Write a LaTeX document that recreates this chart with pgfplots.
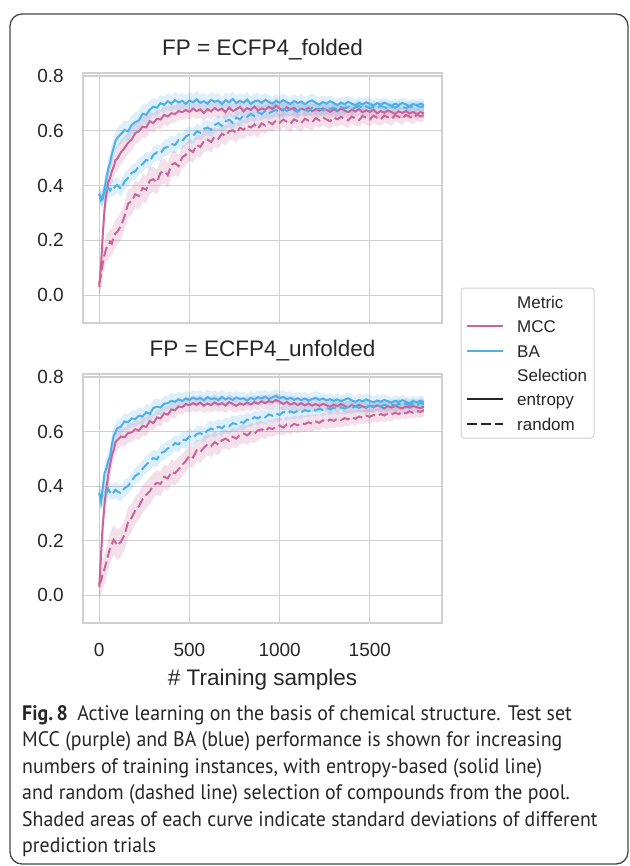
\documentclass[border=0pt]{standalone}
\usepackage{fontspec}
\setmainfont{Liberation Sans}
\newfontfamily\capfont[FakeStretch=0.945]{PT Sans}
\usepackage{pgfplots}
\usepackage{pgfplotstable}
\pgfplotsset{compat=1.18}
\usepgfplotslibrary{fillbetween}
\definecolor{mcc}{RGB}{201,100,154}
\definecolor{ba}{RGB}{78,176,230}
\definecolor{gridc}{RGB}{208,208,208}
\definecolor{txt}{RGB}{38,38,38}
\definecolor{frame}{RGB}{70,70,70}

\pgfplotstableread{
x be sbe me sme br sbr mr smr
0 0.370 0.030 0.030 0.040 0.370 0.030 0.040 0.040
10 0.345 0.030 0.110 0.050 0.352 0.030 0.075 0.050
20 0.352 0.030 0.225 0.050 0.365 0.030 0.118 0.050
30 0.392 0.035 0.318 0.050 0.372 0.030 0.150 0.050
40 0.428 0.035 0.372 0.045 0.384 0.030 0.172 0.050
50 0.462 0.035 0.412 0.045 0.391 0.030 0.178 0.050
60 0.483 0.035 0.428 0.045 0.382 0.030 0.195 0.050
70 0.515 0.035 0.452 0.045 0.394 0.030 0.188 0.050
80 0.538 0.035 0.468 0.045 0.388 0.030 0.212 0.050
90 0.562 0.035 0.493 0.045 0.398 0.030 0.225 0.050
100 0.574 0.035 0.498 0.045 0.402 0.030 0.231 0.050
120 0.588 0.035 0.521 0.045 0.388 0.030 0.252 0.050
140 0.603 0.035 0.537 0.040 0.414 0.030 0.287 0.050
160 0.598 0.035 0.556 0.040 0.428 0.030 0.334 0.050
180 0.621 0.035 0.568 0.040 0.446 0.030 0.343 0.050
200 0.632 0.035 0.592 0.040 0.452 0.030 0.368 0.050
220 0.638 0.035 0.598 0.040 0.471 0.030 0.362 0.050
240 0.662 0.035 0.615 0.040 0.478 0.030 0.391 0.050
260 0.658 0.035 0.612 0.040 0.494 0.030 0.385 0.050
280 0.677 0.035 0.635 0.035 0.488 0.030 0.418 0.050
300 0.688 0.030 0.628 0.035 0.512 0.030 0.423 0.045
320 0.684 0.030 0.644 0.035 0.521 0.030 0.412 0.045
340 0.701 0.030 0.641 0.035 0.518 0.030 0.447 0.045
360 0.695 0.030 0.658 0.035 0.537 0.030 0.452 0.045
380 0.708 0.030 0.652 0.035 0.541 0.030 0.438 0.045
400 0.699 0.030 0.664 0.035 0.552 0.030 0.476 0.045
420 0.712 0.030 0.661 0.030 0.548 0.030 0.482 0.045
440 0.703 0.030 0.672 0.030 0.566 0.030 0.471 0.040
460 0.709 0.030 0.668 0.030 0.562 0.030 0.503 0.040
480 0.698 0.030 0.676 0.030 0.579 0.030 0.512 0.040
500 0.711 0.030 0.669 0.030 0.586 0.030 0.531 0.040
520 0.704 0.030 0.681 0.030 0.581 0.028 0.522 0.040
540 0.715 0.030 0.672 0.030 0.598 0.028 0.548 0.040
560 0.702 0.030 0.678 0.030 0.593 0.028 0.541 0.040
580 0.708 0.030 0.665 0.030 0.607 0.028 0.562 0.040
600 0.699 0.030 0.679 0.030 0.612 0.028 0.568 0.040
620 0.713 0.028 0.671 0.030 0.604 0.028 0.559 0.040
640 0.706 0.028 0.683 0.030 0.621 0.028 0.578 0.035
660 0.710 0.028 0.674 0.030 0.628 0.028 0.571 0.035
680 0.697 0.028 0.681 0.030 0.618 0.028 0.589 0.035
700 0.712 0.028 0.668 0.030 0.634 0.028 0.582 0.035
720 0.704 0.028 0.685 0.028 0.641 0.028 0.598 0.035
740 0.716 0.028 0.672 0.028 0.629 0.028 0.602 0.035
760 0.701 0.028 0.679 0.028 0.648 0.028 0.591 0.035
780 0.709 0.028 0.687 0.028 0.642 0.028 0.611 0.035
800 0.703 0.028 0.671 0.028 0.655 0.028 0.604 0.035
820 0.714 0.028 0.683 0.028 0.651 0.025 0.618 0.035
840 0.698 0.028 0.676 0.028 0.662 0.025 0.612 0.035
860 0.707 0.028 0.689 0.028 0.654 0.025 0.623 0.035
880 0.711 0.028 0.674 0.028 0.668 0.025 0.608 0.035
900 0.702 0.028 0.682 0.028 0.661 0.025 0.627 0.030
920 0.713 0.025 0.676 0.028 0.672 0.025 0.619 0.030
940 0.705 0.025 0.688 0.028 0.664 0.025 0.632 0.030
960 0.699 0.025 0.679 0.028 0.671 0.025 0.624 0.030
980 0.709 0.025 0.692 0.028 0.676 0.025 0.638 0.030
1000 0.702 0.025 0.681 0.028 0.668 0.025 0.629 0.030
1020 0.712 0.025 0.674 0.028 0.679 0.025 0.641 0.030
1040 0.704 0.025 0.686 0.025 0.672 0.025 0.633 0.030
1060 0.698 0.025 0.678 0.025 0.681 0.025 0.626 0.030
1080 0.709 0.025 0.684 0.025 0.675 0.025 0.642 0.030
1100 0.701 0.025 0.672 0.025 0.669 0.025 0.635 0.030
1120 0.707 0.025 0.681 0.025 0.683 0.022 0.628 0.030
1140 0.697 0.025 0.676 0.025 0.677 0.022 0.644 0.030
1160 0.706 0.025 0.684 0.025 0.672 0.022 0.637 0.030
1180 0.711 0.025 0.671 0.025 0.684 0.022 0.631 0.030
1200 0.702 0.025 0.679 0.025 0.678 0.022 0.646 0.028
1220 0.696 0.025 0.673 0.025 0.681 0.022 0.638 0.028
1240 0.705 0.025 0.682 0.025 0.674 0.022 0.649 0.028
1260 0.699 0.022 0.676 0.025 0.686 0.022 0.641 0.028
1280 0.708 0.022 0.669 0.025 0.679 0.022 0.635 0.028
1300 0.701 0.022 0.678 0.025 0.684 0.022 0.648 0.028
1320 0.694 0.022 0.672 0.025 0.676 0.022 0.642 0.028
1340 0.703 0.022 0.681 0.025 0.687 0.022 0.651 0.028
1360 0.697 0.022 0.674 0.022 0.681 0.022 0.644 0.028
1380 0.706 0.022 0.668 0.022 0.688 0.020 0.638 0.028
1400 0.699 0.022 0.677 0.022 0.679 0.020 0.652 0.025
1420 0.693 0.022 0.671 0.022 0.685 0.020 0.645 0.025
1440 0.702 0.022 0.679 0.022 0.691 0.020 0.639 0.025
1460 0.696 0.022 0.668 0.022 0.683 0.020 0.654 0.025
1480 0.704 0.022 0.675 0.022 0.689 0.020 0.647 0.025
1500 0.698 0.022 0.669 0.022 0.682 0.020 0.641 0.025
1520 0.692 0.020 0.677 0.022 0.688 0.020 0.655 0.025
1540 0.701 0.020 0.664 0.022 0.684 0.020 0.648 0.025
1560 0.695 0.020 0.672 0.022 0.691 0.020 0.642 0.025
1580 0.703 0.020 0.666 0.022 0.686 0.020 0.656 0.025
1600 0.697 0.020 0.674 0.020 0.681 0.020 0.649 0.025
1620 0.691 0.020 0.668 0.020 0.689 0.020 0.643 0.025
1640 0.699 0.020 0.661 0.020 0.684 0.018 0.657 0.022
1660 0.694 0.020 0.671 0.020 0.692 0.018 0.651 0.022
1680 0.702 0.020 0.665 0.020 0.686 0.018 0.644 0.022
1700 0.696 0.020 0.672 0.020 0.683 0.018 0.658 0.022
1720 0.690 0.020 0.663 0.020 0.689 0.018 0.652 0.022
1740 0.698 0.020 0.669 0.020 0.685 0.018 0.646 0.022
1760 0.693 0.020 0.661 0.020 0.691 0.018 0.659 0.022
1780 0.699 0.020 0.668 0.020 0.687 0.018 0.653 0.022
1800 0.694 0.020 0.664 0.020 0.690 0.018 0.657 0.022
}\folded

\pgfplotstableread{
x be sbe me sme br sbr mr smr
0 0.376 0.040 0.030 0.050 0.370 0.040 0.040 0.050
10 0.342 0.040 0.148 0.060 0.352 0.035 0.052 0.050
20 0.395 0.040 0.262 0.060 0.368 0.035 0.081 0.055
30 0.448 0.040 0.338 0.060 0.381 0.035 0.098 0.055
40 0.466 0.035 0.392 0.055 0.376 0.030 0.122 0.055
50 0.492 0.035 0.441 0.055 0.389 0.030 0.148 0.055
60 0.508 0.035 0.478 0.050 0.378 0.030 0.172 0.055
70 0.553 0.035 0.512 0.045 0.384 0.030 0.188 0.055
80 0.584 0.030 0.532 0.040 0.377 0.030 0.203 0.055
90 0.598 0.030 0.561 0.040 0.386 0.030 0.194 0.055
100 0.612 0.030 0.568 0.035 0.381 0.030 0.182 0.055
120 0.618 0.030 0.582 0.035 0.374 0.030 0.196 0.055
140 0.637 0.030 0.579 0.035 0.392 0.030 0.221 0.055
160 0.634 0.030 0.594 0.035 0.401 0.030 0.268 0.055
180 0.648 0.030 0.597 0.035 0.419 0.030 0.284 0.050
200 0.646 0.030 0.609 0.035 0.438 0.030 0.312 0.050
220 0.658 0.030 0.603 0.035 0.446 0.030 0.326 0.050
240 0.655 0.030 0.621 0.035 0.463 0.030 0.352 0.050
260 0.671 0.030 0.617 0.035 0.478 0.030 0.368 0.050
280 0.664 0.030 0.638 0.030 0.491 0.030 0.381 0.050
300 0.686 0.030 0.631 0.030 0.503 0.030 0.402 0.045
320 0.691 0.030 0.652 0.030 0.498 0.030 0.412 0.045
340 0.688 0.028 0.648 0.030 0.521 0.030 0.408 0.045
360 0.702 0.028 0.667 0.030 0.526 0.030 0.434 0.045
380 0.704 0.028 0.662 0.030 0.538 0.030 0.428 0.045
400 0.713 0.028 0.681 0.030 0.542 0.030 0.452 0.045
420 0.709 0.028 0.678 0.030 0.558 0.030 0.447 0.045
440 0.718 0.028 0.692 0.028 0.553 0.030 0.462 0.045
460 0.712 0.028 0.689 0.028 0.571 0.030 0.478 0.040
480 0.721 0.028 0.701 0.028 0.568 0.030 0.492 0.040
500 0.716 0.028 0.697 0.028 0.582 0.030 0.512 0.040
520 0.724 0.028 0.704 0.028 0.577 0.028 0.505 0.040
540 0.718 0.028 0.698 0.028 0.591 0.028 0.531 0.040
560 0.723 0.028 0.706 0.028 0.594 0.028 0.524 0.040
580 0.714 0.028 0.695 0.028 0.588 0.028 0.541 0.040
600 0.726 0.028 0.703 0.028 0.604 0.028 0.553 0.040
620 0.719 0.028 0.697 0.028 0.611 0.028 0.546 0.040
640 0.722 0.028 0.707 0.028 0.606 0.028 0.561 0.040
660 0.715 0.028 0.699 0.028 0.618 0.028 0.552 0.040
680 0.727 0.028 0.704 0.028 0.612 0.028 0.568 0.035
700 0.718 0.025 0.696 0.028 0.624 0.028 0.574 0.035
720 0.723 0.025 0.708 0.028 0.619 0.028 0.566 0.035
740 0.716 0.025 0.701 0.028 0.631 0.028 0.581 0.035
760 0.725 0.025 0.694 0.025 0.627 0.028 0.574 0.035
780 0.719 0.025 0.703 0.025 0.636 0.028 0.588 0.035
800 0.722 0.025 0.698 0.025 0.632 0.028 0.593 0.035
820 0.714 0.025 0.706 0.025 0.644 0.025 0.586 0.035
840 0.724 0.025 0.699 0.025 0.641 0.025 0.598 0.035
860 0.717 0.025 0.708 0.025 0.653 0.025 0.592 0.035
880 0.726 0.025 0.702 0.025 0.648 0.025 0.604 0.035
900 0.721 0.025 0.711 0.025 0.657 0.025 0.608 0.030
920 0.728 0.025 0.704 0.025 0.652 0.025 0.601 0.030
940 0.719 0.025 0.712 0.025 0.663 0.025 0.614 0.030
960 0.725 0.025 0.707 0.025 0.658 0.025 0.609 0.030
980 0.731 0.025 0.716 0.025 0.666 0.025 0.618 0.030
1000 0.722 0.025 0.709 0.025 0.661 0.025 0.622 0.030
1020 0.727 0.025 0.701 0.025 0.672 0.025 0.615 0.030
1040 0.718 0.025 0.708 0.025 0.667 0.025 0.626 0.030
1060 0.724 0.025 0.699 0.025 0.674 0.025 0.619 0.030
1080 0.716 0.025 0.705 0.025 0.669 0.025 0.628 0.030
1100 0.722 0.025 0.697 0.025 0.676 0.025 0.623 0.030
1120 0.715 0.025 0.704 0.025 0.671 0.025 0.631 0.030
1140 0.721 0.025 0.696 0.025 0.679 0.025 0.627 0.030
1160 0.713 0.025 0.703 0.025 0.674 0.022 0.634 0.030
1180 0.719 0.025 0.695 0.025 0.681 0.022 0.629 0.030
1200 0.724 0.025 0.701 0.025 0.677 0.022 0.637 0.028
1220 0.716 0.025 0.694 0.025 0.684 0.022 0.632 0.028
1240 0.721 0.022 0.702 0.025 0.679 0.022 0.641 0.028
1260 0.714 0.022 0.696 0.025 0.686 0.022 0.636 0.028
1280 0.719 0.022 0.691 0.025 0.681 0.022 0.644 0.028
1300 0.712 0.022 0.699 0.025 0.688 0.022 0.639 0.028
1320 0.718 0.022 0.693 0.022 0.683 0.022 0.647 0.028
1340 0.711 0.022 0.701 0.022 0.689 0.022 0.642 0.028
1360 0.717 0.022 0.694 0.022 0.684 0.022 0.649 0.028
1380 0.722 0.022 0.689 0.022 0.691 0.022 0.645 0.028
1400 0.714 0.022 0.697 0.022 0.686 0.022 0.652 0.025
1420 0.709 0.022 0.691 0.022 0.692 0.020 0.647 0.025
1440 0.716 0.022 0.698 0.022 0.687 0.020 0.655 0.025
1460 0.711 0.022 0.692 0.022 0.694 0.020 0.651 0.025
1480 0.718 0.022 0.687 0.022 0.689 0.020 0.658 0.025
1500 0.712 0.022 0.695 0.022 0.695 0.020 0.654 0.025
1520 0.707 0.022 0.689 0.022 0.691 0.020 0.661 0.025
1540 0.714 0.022 0.696 0.022 0.697 0.020 0.657 0.025
1560 0.709 0.022 0.691 0.022 0.692 0.020 0.664 0.025
1580 0.716 0.022 0.685 0.022 0.698 0.020 0.659 0.025
1600 0.711 0.020 0.693 0.022 0.694 0.020 0.666 0.025
1620 0.706 0.020 0.688 0.020 0.699 0.020 0.662 0.025
1640 0.713 0.020 0.694 0.020 0.695 0.020 0.669 0.022
1660 0.708 0.020 0.689 0.020 0.701 0.020 0.664 0.022
1680 0.715 0.020 0.685 0.020 0.696 0.020 0.671 0.022
1700 0.709 0.020 0.692 0.020 0.702 0.020 0.667 0.022
1720 0.704 0.020 0.688 0.020 0.697 0.020 0.674 0.022
1740 0.712 0.020 0.694 0.020 0.703 0.020 0.669 0.022
1760 0.707 0.020 0.689 0.020 0.698 0.020 0.676 0.022
1780 0.713 0.020 0.686 0.020 0.704 0.020 0.672 0.022
1800 0.708 0.020 0.691 0.020 0.700 0.020 0.678 0.022
}\unfolded

% #1 table, #2 mean column, #3 sd column, #4 colour, #5 unique id, #6 line style
\newcommand{\curveband}[6]{%
  \addplot[name path=up#5, draw=none, forget plot] table[x=x, y expr=\thisrow{#2}+\thisrow{#3}] {#1};
  \addplot[name path=lo#5, draw=none, forget plot] table[x=x, y expr=\thisrow{#2}-\thisrow{#3}] {#1};
  \addplot[#4, fill opacity=0.2, draw=none, forget plot] fill between[of=up#5 and lo#5];
  \addplot[#4, line width=2pt, #6, forget plot] table[x=x, y=#2] {#1};
}

\pgfplotsset{myax/.style={
  scale only axis, width=359pt,
  xmin=-90, xmax=1900, ymin=-0.102, ymax=0.811,
  xtick={0,500,1000,1500}, ytick={0,0.2,0.4,0.6,0.8},
  grid=major, grid style={gridc, line width=1.1pt},
  axis line style={gridc, line width=1.1pt},
  major tick length=0pt,
  /pgf/number format/assume math mode=true,
  tick label style={font=\fontsize{19}{19}\selectfont, text=txt},
  yticklabel style={anchor=east, inner sep=0pt, xshift=-19pt,
    /pgf/number format/.cd, fixed, fixed zerofill, precision=1},
  xticklabel style={anchor=north, inner sep=0pt, yshift=-20pt,
    /pgf/number format/.cd, 1000 sep={}},
  title style={font=\fontsize{22.5}{22.5}\selectfont, text=txt, at={(0.5,1)}, anchor=base, yshift=11pt, inner sep=0pt},
}}

\begin{document}
\begin{tikzpicture}
\path (0,0) rectangle (629pt,-866pt);

\begin{axis}[myax, height=250pt, at={(83pt,-323pt)}, anchor=south west,
  xticklabels={}, title={FP = ECFP4\_folded}]
  \curveband{\folded}{me}{sme}{mcc}{a}{solid}
  \curveband{\folded}{mr}{smr}{mcc}{b}{dash pattern=on 10pt off 4pt}
  \curveband{\folded}{be}{sbe}{ba}{c}{solid}
  \curveband{\folded}{br}{sbr}{ba}{d}{dash pattern=on 10pt off 4pt}
\end{axis}

\begin{axis}[myax, height=249pt, at={(83pt,-623pt)}, anchor=south west,
  title={FP = ECFP4\_unfolded}]
  \curveband{\unfolded}{me}{sme}{mcc}{e}{solid}
  \curveband{\unfolded}{mr}{smr}{mcc}{f}{dash pattern=on 10pt off 4pt}
  \curveband{\unfolded}{be}{sbe}{ba}{g}{solid}
  \curveband{\unfolded}{br}{sbr}{ba}{h}{dash pattern=on 10pt off 4pt}
\end{axis}

\node[anchor=base, inner sep=0pt, font=\fontsize{22.5}{22.5}\selectfont, text=txt] at (262.5pt,-685pt) {\# Training samples};

% legend
\draw[gridc, line width=1pt, rounded corners=3pt, fill=white] (461pt,-288pt) rectangle (594pt,-438pt);
\begin{scope}[every node/.style={anchor=base west, inner sep=0pt, font=\fontsize{17}{17}\selectfont, text=txt}]
\node at (517pt,-308pt) {Metric};
\node at (517pt,-332pt) {MCC};
\node at (517pt,-357pt) {BA};
\node at (517pt,-381pt) {Selection};
\node at (517pt,-405pt) {entropy};
\node at (517pt,-430pt) {random};
\end{scope}
\draw[mcc, line width=2.2pt] (467pt,-326pt) -- (503pt,-326pt);
\draw[ba, line width=2.2pt] (467pt,-351pt) -- (503pt,-351pt);
\draw[txt, line width=2.2pt] (467pt,-399pt) -- (503pt,-399pt);
\draw[txt, line width=2.2pt, dash pattern=on 10pt off 4pt] (467pt,-424pt) -- (503pt,-424pt);

% frame
\draw[frame, line width=1.3pt, rounded corners=12pt] (10pt,-14pt) rectangle (628pt,-864pt);

% caption
\begin{scope}[every node/.style={anchor=base west, inner sep=0pt, font=\capfont\fontsize{21}{21}\selectfont, text=black!85}]
\node at (22pt,-720pt) {\textbf{Fig.\,8}\hspace{0.45em}Active learning on the basis of chemical structure. Test set};
\node at (22pt,-746.5pt) {MCC (purple) and BA (blue) performance is shown for increasing};
\node at (22pt,-773pt) {numbers of training instances, with entropy-based (solid line)};
\node at (22pt,-799.5pt) {and random (dashed line) selection of compounds from the pool.};
\node at (22pt,-826pt) {Shaded areas of each curve indicate standard deviations of different};
\node at (22pt,-852.5pt) {prediction trials};
\end{scope}
\end{tikzpicture}
\end{document}
